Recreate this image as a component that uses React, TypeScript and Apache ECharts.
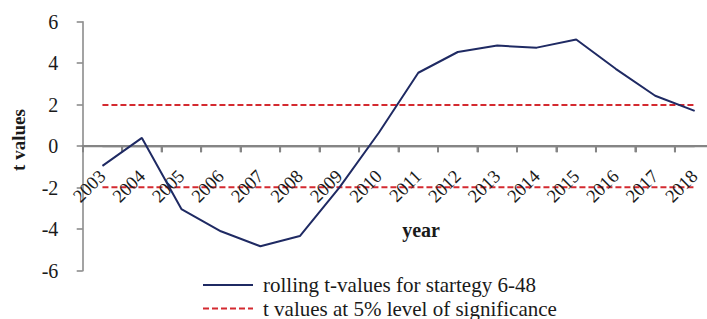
import React, { useEffect, useRef } from "react";
import * as echarts from "echarts";

const years = ["2003", "2004", "2005", "2006", "2007", "2008", "2009", "2010", "2011", "2012", "2013", "2014", "2015", "2016", "2017", "2018"];
const rollingT = [-0.95, 0.4, -3.03, -4.1, -4.82, -4.33, -2.0, 0.65, 3.54, 4.54, 4.85, 4.75, 5.14, 3.73, 2.43, 1.7];
const upperBound = years.map(() => 1.98);
const lowerBound = years.map(() => -1.98);
const zeroLine = years.map(() => 0);
const yTicks = { min: -6, max: 6, interval: 2 };
const lineName = "rolling t-values for startegy 6-48";
const dashName = "t values at 5% level of significance";

const FONT = "'Liberation Serif', 'Times New Roman', serif";
const GRID_TOP = 21.7;
const GRID_H = 249;
const AXIS_GREY = "#858585";

export default function App() {
  const ref = useRef<HTMLDivElement>(null);
  useEffect(() => {
    if (!ref.current) return;
    const chart = echarts.init(ref.current, null, { renderer: "svg" });
    const zeroOffset = -(GRID_H * (0 - yTicks.min)) / (yTicks.max - yTicks.min);
    const legendBase = {
      orient: "vertical",
      left: 202,
      padding: 0,
      itemWidth: 50,
      itemHeight: 14,
      itemStyle: { opacity: 0 },
      textStyle: { fontFamily: FONT, fontSize: 21, lineHeight: 21, color: "#1a1a1a", padding: [0, 0, 0, 5] },
      selectedMode: false,
    };
    chart.setOption({
      animation: false,
      backgroundColor: "#ffffff",
      grid: { left: 82.7, top: GRID_TOP, width: 631.7, height: GRID_H },
      xAxis: {
        type: "category",
        data: years,
        boundaryGap: true,
        position: "bottom",
        offset: zeroOffset,
        z: 4,
        axisLine: { show: true, onZero: false, lineStyle: { color: AXIS_GREY, width: 2 } },
        axisTick: { show: true, inside: false, length: 6, alignWithLabel: false, lineStyle: { color: AXIS_GREY, width: 2 } },
        axisLabel: {
          show: true,
          rotate: 45,
          margin: 27,
          align: "right",
          verticalAlign: "middle",
          padding: [9, 0, 0, 0],
          fontFamily: FONT,
          fontSize: 18.5,
          color: "#1a1a1a",
          interval: 0,
        },
        splitLine: { show: false },
      },
      yAxis: {
        type: "value",
        min: yTicks.min,
        max: yTicks.max,
        interval: yTicks.interval,
        axisLine: { show: true, lineStyle: { color: AXIS_GREY, width: 1.5 } },
        axisTick: { show: true, length: 6, lineStyle: { color: AXIS_GREY, width: 1.5 } },
        axisLabel: { margin: 24.4, fontFamily: FONT, fontSize: 20, color: "#1a1a1a" },
        splitLine: { show: false },
      },
      legend: [
        { ...legendBase, top: 274.5, data: [lineName] },
        { ...legendBase, top: 298, data: [dashName] },
      ],
      graphic: [
        {
          type: "text",
          x: 18,
          y: 140,
          rotation: Math.PI / 2,
          style: { text: "t values", fontFamily: FONT, fontSize: 19, fontWeight: "bold", fill: "#1a1a1a", align: "center", verticalAlign: "middle" },
        },
        {
          type: "text",
          x: 421,
          y: 230,
          style: { text: "year", fontFamily: FONT, fontSize: 20, fontWeight: "bold", fill: "#1a1a1a", align: "center", verticalAlign: "middle" },
        },
      ],
      series: [
        {
          name: "x-axis",
          type: "custom",
          silent: true,
          clip: false,
          z: 5,
          data: years.map((y, i) => [i, 0]),
          renderItem: (params: any, api: any) => {
            const p = api.coord([api.value(0), 0]);
            const w = api.size([1, 0])[0];
            return {
              type: "group",
              children: [
                { type: "rect", shape: { x: p[0] - w / 2, y: p[1] - 1, width: w, height: 2 }, style: { fill: AXIS_GREY } },
                { type: "rect", shape: { x: p[0] + w / 2 - 1, y: p[1], width: 2, height: 6 }, style: { fill: AXIS_GREY } },
              ],
            };
          },
        },
        {
          name: "zero",
          type: "line",
          data: zeroLine,
          symbol: "none",
          silent: true,
          lineStyle: { color: AXIS_GREY, width: 2 },
          z: 5,
        },
        {
          name: lineName,
          type: "line",
          data: rollingT,
          symbol: "none",
          lineStyle: { color: "#1f2a63", width: 2 },
          itemStyle: { color: "#1f2a63" },
          z: 6,
        },
        {
          name: dashName,
          type: "line",
          data: upperBound,
          symbol: "none",
          lineStyle: { color: "#d42a30", width: 2, type: [6, 3] },
          itemStyle: { color: "#d42a30" },
          z: 3,
        },
        {
          name: dashName,
          type: "line",
          data: lowerBound,
          symbol: "none",
          lineStyle: { color: "#d42a30", width: 2, type: [6, 3] },
          itemStyle: { color: "#d42a30" },
          z: 3,
        },
      ],
    });
    return () => chart.dispose();
  }, []);
  return (
    <div style={{ position: "absolute", left: 0, top: 0, width: 707, height: 319, overflow: "hidden", background: "#fff" }}>
      <div ref={ref} style={{ position: "absolute", left: 0, top: 0, width: 730, height: 319 }} />
    </div>
  );
}
